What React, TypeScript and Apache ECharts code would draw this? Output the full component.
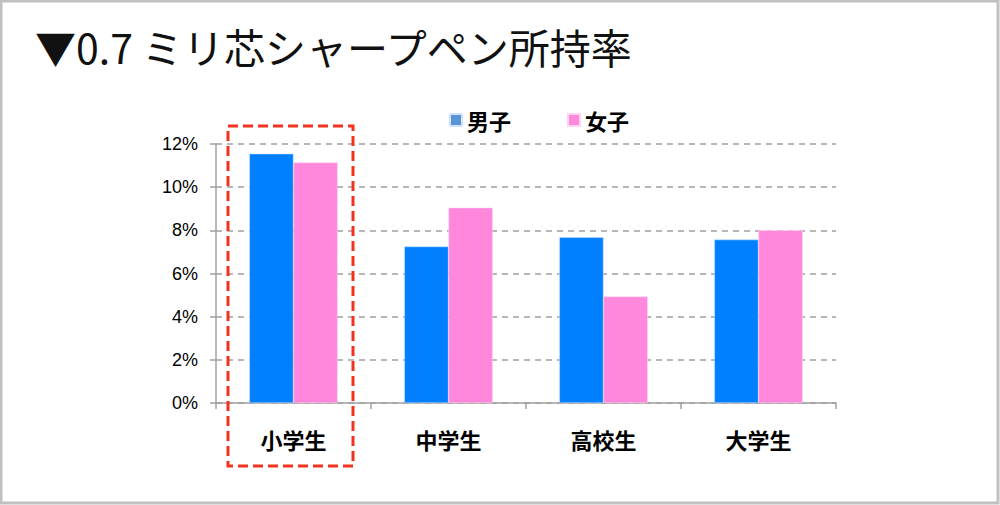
import React, { useEffect, useRef } from "react";
import * as echarts from "echarts";

const categories = ["小学生", "中学生", "高校生", "大学生"];
const boys = [11.55, 7.25, 7.68, 7.57];
const girls = [11.14, 9.05, 4.93, 8.0];
const seriesNames = ["男子", "女子"];
const titleText = "▼0.7 ミリ芯シャープペン所持率";

const JP = '"Noto Sans CJK JP", "Liberation Sans", sans-serif';

export default function App() {
  const ref = useRef<HTMLDivElement>(null);
  useEffect(() => {
    if (!ref.current) return;
    const chart = echarts.init(ref.current, null, { renderer: "svg" });
    chart.setOption({
      animation: false,
      backgroundColor: "#ffffff",
      title: {
        text: titleText,
        left: 30,
        top: 20,
        textStyle: { fontFamily: JP, fontSize: 41, fontWeight: "normal", color: "#111" },
      },
      legend: {
        left: 444,
        top: 104,
        itemWidth: 12,
        itemHeight: 12,
        itemGap: 56,
        icon: "rect",
        textStyle: { fontFamily: JP, fontSize: 22, fontWeight: "bold", color: "#000", padding: [0, 0, 0, 0] },
        data: [
          { name: seriesNames[0], itemStyle: { color: "#5b93d6" } },
          { name: seriesNames[1], itemStyle: { color: "#ff88dd" } },
        ],
      },
      grid: { left: 216, right: 164, top: 144, bottom: 102 },
      xAxis: {
        type: "category",
        data: categories,
        axisLine: { lineStyle: { color: "#a0a0a0", width: 1.5 } },
        axisTick: { show: true, length: 6, lineStyle: { color: "#a0a0a0", width: 1.5 } },
        axisLabel: { fontFamily: JP, fontSize: 22, fontWeight: "bold", color: "#000", margin: 25 },
      },
      yAxis: {
        type: "value",
        min: 0,
        max: 12,
        interval: 2,
        axisLine: { show: true, lineStyle: { color: "#a0a0a0", width: 1.5 } },
        axisTick: { show: true, length: 6, lineStyle: { color: "#a0a0a0", width: 1.5 } },
        axisLabel: {
          fontFamily: '"Liberation Sans", Arial, sans-serif',
          fontSize: 18,
          color: "#000",
          margin: 18,
          formatter: (v: number) => v + "%",
        },
        splitLine: { lineStyle: { color: "#a0a0a0", type: [6, 5], width: 1.5 } },
      },
      series: [
        {
          name: seriesNames[0],
          type: "bar",
          data: boys,
          barGap: "0%",
          barCategoryGap: "43%",
          itemStyle: { color: "#0080ff", borderColor: "#cfe4ff", borderWidth: 0.5 },
        },
        {
          name: seriesNames[1],
          type: "bar",
          data: girls,
          itemStyle: { color: "#ff88dd", borderColor: "#ffd6f2", borderWidth: 0.5 },
        },
      ],
      graphic: [
        {
          type: "rect",
          shape: { x: 1, y: 1, width: 997, height: 502 },
          style: { fill: "none", stroke: "#c0c0c0", lineWidth: 3 },
          silent: true,
        },
        {
          type: "rect",
          shape: { x: 228, y: 126, width: 125, height: 340 },
          style: { fill: "none", stroke: "#f2321e", lineWidth: 3, lineDash: [10, 5] },
          silent: true,
          z: 100,
        },
      ],
    });
    return () => chart.dispose();
  }, []);
  return <div ref={ref} style={{ position: "fixed", left: 0, top: 0, width: 1000, height: 505 }} />;
}
